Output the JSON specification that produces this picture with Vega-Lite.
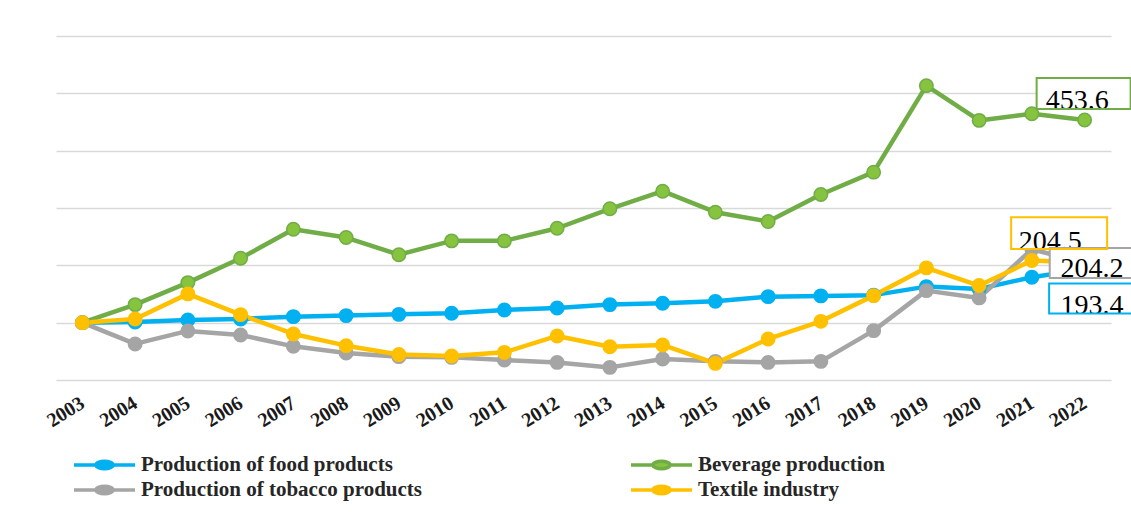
{
  "$schema": "https://vega.github.io/schema/vega-lite/v6.json",
  "width": 1055,
  "height": 344,
  "autosize": "none",
  "padding": {"left": 56, "top": 36, "right": 20, "bottom": 132},
  "background": "white",
  "config": {
    "view": {"stroke": null},
    "font": "Liberation Serif"
  },
  "data": {
    "values": [
      {"year": "2003", "series": "Production of food products", "value": 100},
      {"year": "2004", "series": "Production of food products", "value": 101},
      {"year": "2005", "series": "Production of food products", "value": 104.8},
      {"year": "2006", "series": "Production of food products", "value": 106.5},
      {"year": "2007", "series": "Production of food products", "value": 110.5},
      {"year": "2008", "series": "Production of food products", "value": 112.3},
      {"year": "2009", "series": "Production of food products", "value": 114.5},
      {"year": "2010", "series": "Production of food products", "value": 116.3},
      {"year": "2011", "series": "Production of food products", "value": 122.2},
      {"year": "2012", "series": "Production of food products", "value": 125.7},
      {"year": "2013", "series": "Production of food products", "value": 131.5},
      {"year": "2014", "series": "Production of food products", "value": 133.8},
      {"year": "2015", "series": "Production of food products", "value": 137.2},
      {"year": "2016", "series": "Production of food products", "value": 145.4},
      {"year": "2017", "series": "Production of food products", "value": 146.7},
      {"year": "2018", "series": "Production of food products", "value": 148},
      {"year": "2019", "series": "Production of food products", "value": 162.9},
      {"year": "2020", "series": "Production of food products", "value": 158.9},
      {"year": "2021", "series": "Production of food products", "value": 179.2},
      {"year": "2022", "series": "Production of food products", "value": 193.4},
      {"year": "2003", "series": "Beverage production", "value": 100},
      {"year": "2004", "series": "Beverage production", "value": 131.5},
      {"year": "2005", "series": "Beverage production", "value": 169.9},
      {"year": "2006", "series": "Beverage production", "value": 212.3},
      {"year": "2007", "series": "Beverage production", "value": 263},
      {"year": "2008", "series": "Beverage production", "value": 248.5},
      {"year": "2009", "series": "Beverage production", "value": 218.6},
      {"year": "2010", "series": "Beverage production", "value": 242.7},
      {"year": "2011", "series": "Beverage production", "value": 242.7},
      {"year": "2012", "series": "Beverage production", "value": 264.7},
      {"year": "2013", "series": "Beverage production", "value": 298.6},
      {"year": "2014", "series": "Beverage production", "value": 329.3},
      {"year": "2015", "series": "Beverage production", "value": 292.7},
      {"year": "2016", "series": "Beverage production", "value": 276.4},
      {"year": "2017", "series": "Beverage production", "value": 323.6},
      {"year": "2018", "series": "Beverage production", "value": 362.5},
      {"year": "2019", "series": "Beverage production", "value": 513.4},
      {"year": "2020", "series": "Beverage production", "value": 452.8},
      {"year": "2021", "series": "Beverage production", "value": 464.5},
      {"year": "2022", "series": "Beverage production", "value": 453.6},
      {"year": "2003", "series": "Production of tobacco products", "value": 100},
      {"year": "2004", "series": "Production of tobacco products", "value": 62.9},
      {"year": "2005", "series": "Production of tobacco products", "value": 85.6},
      {"year": "2006", "series": "Production of tobacco products", "value": 78.6},
      {"year": "2007", "series": "Production of tobacco products", "value": 58.7},
      {"year": "2008", "series": "Production of tobacco products", "value": 47.1},
      {"year": "2009", "series": "Production of tobacco products", "value": 40.7},
      {"year": "2010", "series": "Production of tobacco products", "value": 39.5},
      {"year": "2011", "series": "Production of tobacco products", "value": 34.9},
      {"year": "2012", "series": "Production of tobacco products", "value": 30.7},
      {"year": "2013", "series": "Production of tobacco products", "value": 22},
      {"year": "2014", "series": "Production of tobacco products", "value": 36.7},
      {"year": "2015", "series": "Production of tobacco products", "value": 32.5},
      {"year": "2016", "series": "Production of tobacco products", "value": 30.7},
      {"year": "2017", "series": "Production of tobacco products", "value": 32.5},
      {"year": "2018", "series": "Production of tobacco products", "value": 86.1},
      {"year": "2019", "series": "Production of tobacco products", "value": 155.9},
      {"year": "2020", "series": "Production of tobacco products", "value": 143.2},
      {"year": "2021", "series": "Production of tobacco products", "value": 228},
      {"year": "2022", "series": "Production of tobacco products", "value": 204.2},
      {"year": "2003", "series": "Textile industry", "value": 100},
      {"year": "2004", "series": "Textile industry", "value": 106.5},
      {"year": "2005", "series": "Textile industry", "value": 150.2},
      {"year": "2006", "series": "Textile industry", "value": 114},
      {"year": "2007", "series": "Textile industry", "value": 80.3},
      {"year": "2008", "series": "Textile industry", "value": 59.9},
      {"year": "2009", "series": "Textile industry", "value": 44.5},
      {"year": "2010", "series": "Textile industry", "value": 41.9},
      {"year": "2011", "series": "Textile industry", "value": 48.2},
      {"year": "2012", "series": "Textile industry", "value": 76.8},
      {"year": "2013", "series": "Textile industry", "value": 58.1},
      {"year": "2014", "series": "Textile industry", "value": 61.1},
      {"year": "2015", "series": "Textile industry", "value": 29},
      {"year": "2016", "series": "Textile industry", "value": 71.6},
      {"year": "2017", "series": "Textile industry", "value": 102.3},
      {"year": "2018", "series": "Textile industry", "value": 147.2},
      {"year": "2019", "series": "Textile industry", "value": 195.6},
      {"year": "2020", "series": "Textile industry", "value": 164.7},
      {"year": "2021", "series": "Textile industry", "value": 208.3},
      {"year": "2022", "series": "Textile industry", "value": 204.5}
    ]
  },
  "encoding": {
    "x": {
      "field": "year",
      "type": "ordinal",
      "scale": {"type": "point", "padding": 0.5},
      "axis": {
        "title": null,
        "domain": false,
        "ticks": false,
        "grid": false,
        "labelAngle": -32,
        "labelAlign": "right",
        "labelBaseline": "middle",
        "labelFont": "Liberation Serif",
        "labelFontWeight": "bold",
        "labelFontSize": 20,
        "labelColor": "#1a1a1a",
        "labelPadding": 21
      }
    },
    "y": {
      "field": "value",
      "type": "quantitative",
      "scale": {"domain": [0, 600], "nice": false, "zero": true},
      "axis": {
        "title": null,
        "labels": false,
        "ticks": false,
        "domain": false,
        "values": [0, 100, 200, 300, 400, 500, 600],
        "grid": true,
        "gridColor": "#d9d9d9",
        "gridWidth": 1.5
      }
    }
  },
  "layer": [
    {
      "mark": {"type": "line", "strokeWidth": 4.5, "strokeJoin": "round"},
      "encoding": {
        "stroke": {
          "field": "series",
          "type": "nominal",
          "scale": {
            "domain": ["Production of food products", "Beverage production", "Production of tobacco products", "Textile industry"],
            "range": ["#00b0f0", "#70ad47", "#a5a5a5", "#ffc000"]
          },
          "legend": {
            "title": null,
            "orient": "none",
            "legendX": 16,
            "legendY": 418,
            "direction": "horizontal",
            "columns": 2,
            "columnPadding": 207,
            "rowPadding": 3,
            "padding": 0,
            "clipHeight": 22,
            "symbolType": "M-1,0L-0.28,0M0.28,0L1,0M0.28,0A0.28,0.12,0,1,1,-0.28,0A0.28,0.12,0,1,1,0.28,0Z",
            "symbolSize": 3721,
            "symbolStrokeWidth": 3.5,
            "labelOffset": 4,
            "labelFont": "Liberation Serif",
            "labelFontWeight": "bold",
            "labelFontSize": 21,
            "labelColor": "#262626",
            "labelLimit": 400,
            "encode": {
              "symbols": {
                "update": {
                  "fill": {"scale": "fill", "field": "value"},
                  "stroke": {"scale": "stroke", "field": "value"},
                  "opacity": {"value": 1}
                }
              }
            }
          }
        }
      }
    },
    {
      "mark": {"type": "point", "shape": "circle", "filled": true, "size": 180, "strokeWidth": 1.5, "opacity": 1},
      "encoding": {
        "stroke": {"field": "series", "type": "nominal"},
        "fill": {
          "field": "series",
          "type": "nominal",
          "scale": {
            "domain": ["Production of food products", "Beverage production", "Production of tobacco products", "Textile industry"],
            "range": ["#00b0f0", "#86c440", "#a5a5a5", "#ffc000"]
          },
          "legend": null
        }
      }
    },
    {
      "transform": [{"filter": "datum.year == '2022' && datum.series == 'Production of tobacco products'"}],
      "mark": {"type": "point", "shape": "M-1,-0.33L1,-0.33L1,0.33L-1,0.33Z", "size": 8281, "filled": true, "fill": "white", "strokeWidth": 0, "opacity": 1, "xOffset": 10.6, "yOffset": 0}
    },
    {
      "transform": [{"filter": "datum.year == '2022' && datum.series == 'Production of food products'"}],
      "mark": {"type": "point", "shape": "M-1,-0.33L1,-0.33L1,0.33L-1,0.33Z", "size": 8281, "filled": true, "fill": "white", "strokeWidth": 0, "opacity": 1, "xOffset": 10, "yOffset": 29.3}
    },
    {
      "transform": [{"filter": "datum.year == '2022' && datum.series == 'Beverage production'"}],
      "mark": {"type": "point", "shape": "M-1,-0.33L1,-0.33L1,0.33L-1,0.33Z", "size": 8836, "filled": true, "fill": "white", "strokeWidth": 0, "opacity": 1, "xOffset": -1, "yOffset": -26.5}
    },
    {
      "transform": [{"filter": "datum.year == '2022' && datum.series == 'Textile industry'"}],
      "mark": {"type": "point", "shape": "M-1,-0.33L1,-0.33L1,0.33L-1,0.33Z", "size": 9216, "filled": true, "fill": "white", "strokeWidth": 0, "opacity": 1, "xOffset": -25.5, "yOffset": -29.7}
    },
    {
      "transform": [{"filter": "datum.year == '2022' && datum.series == 'Beverage production'"}],
      "mark": {"type": "text", "font": "Liberation Serif", "fontSize": 28, "color": "#000000", "align": "left", "baseline": "alphabetic", "dx": -39, "dy": -10.5},
      "encoding": {"text": {"field": "value", "type": "quantitative", "format": ".1f"}}
    },
    {
      "transform": [{"filter": "datum.year == '2022' && datum.series == 'Textile industry'"}],
      "mark": {"type": "text", "font": "Liberation Serif", "fontSize": 28, "color": "#000000", "align": "left", "baseline": "alphabetic", "dx": -66, "dy": -13.2},
      "encoding": {"text": {"field": "value", "type": "quantitative", "format": ".1f"}}
    },
    {
      "transform": [{"filter": "datum.year == '2022' && datum.series == 'Production of tobacco products'"}],
      "mark": {"type": "text", "font": "Liberation Serif", "fontSize": 28, "color": "#000000", "align": "left", "baseline": "alphabetic", "dx": -24.2, "dy": 13.6},
      "encoding": {"text": {"field": "value", "type": "quantitative", "format": ".1f"}}
    },
    {
      "transform": [{"filter": "datum.year == '2022' && datum.series == 'Production of food products'"}],
      "mark": {"type": "text", "font": "Liberation Serif", "fontSize": 28, "color": "#000000", "align": "left", "baseline": "alphabetic", "dx": -24.2, "dy": 44.5},
      "encoding": {"text": {"field": "value", "type": "quantitative", "format": ".1f"}}
    },
    {
      "transform": [{"filter": "datum.year == '2022' && datum.series == 'Production of tobacco products'"}],
      "mark": {"type": "point", "shape": "M-1,-0.33L1,-0.33L1,0.33L-1,0.33Z", "size": 8281, "filled": false, "stroke": "#a5a5a5", "strokeWidth": 2, "opacity": 1, "xOffset": 10.6, "yOffset": 0}
    },
    {
      "transform": [{"filter": "datum.year == '2022' && datum.series == 'Production of food products'"}],
      "mark": {"type": "point", "shape": "M-1,-0.33L1,-0.33L1,0.33L-1,0.33Z", "size": 8281, "filled": false, "stroke": "#00b0f0", "strokeWidth": 2, "opacity": 1, "xOffset": 10, "yOffset": 29.3}
    },
    {
      "transform": [{"filter": "datum.year == '2022' && datum.series == 'Beverage production'"}],
      "mark": {"type": "point", "shape": "M-1,-0.33L1,-0.33L1,0.33L-1,0.33Z", "size": 8836, "filled": false, "stroke": "#70ad47", "strokeWidth": 2, "opacity": 1, "xOffset": -1, "yOffset": -26.5}
    },
    {
      "transform": [{"filter": "datum.year == '2022' && datum.series == 'Textile industry'"}],
      "mark": {"type": "point", "shape": "M-1,-0.33L1,-0.33L1,0.33L-1,0.33Z", "size": 9216, "filled": false, "stroke": "#ffc000", "strokeWidth": 2, "opacity": 1, "xOffset": -25.5, "yOffset": -29.7}
    }
  ]
}
